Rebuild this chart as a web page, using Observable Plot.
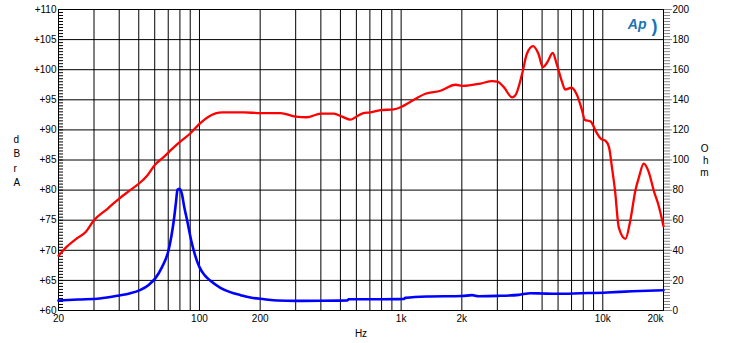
<!DOCTYPE html>
<html>
<head>
<meta charset="utf-8">
<script src="https://cdn.jsdelivr.net/npm/d3@7"></script>
<script src="https://cdn.jsdelivr.net/npm/@observablehq/plot@0.6"></script>
<style>
  html, body { margin: 0; padding: 0; background: #fff; }
  #chart svg { display: block; }
</style>
</head>
<body>
<div id="chart"></div>
<script>
// Red curve: level (dBrA), left axis
const redFreq = [20, 22, 24.7, 27.2, 30, 35, 40, 45, 51, 55, 60.5, 66, 73, 80, 90, 100, 111, 130, 166, 200, 252, 300, 340, 400, 463, 510, 561, 600, 650, 700, 790, 920, 1000, 1103, 1320, 1567, 1860, 2030, 2470, 2830, 3000, 3230, 3550, 3680, 3980, 4200, 4510, 4800, 5050, 5300, 5650, 5900, 6290, 6500, 7000, 7400, 7900, 8130, 8700, 9300, 9800, 10300, 10740, 11100, 11500, 12000, 12950, 13700, 14500, 15100, 15950, 16900, 17900, 19000, 20000];
const redDb = [69.1, 70.6, 72.0, 73.0, 75.0, 76.9, 78.6, 79.9, 81.3, 82.4, 84.3, 85.4, 86.8, 88.0, 89.4, 91.0, 92.2, 92.9, 92.9, 92.8, 92.8, 92.2, 92.1, 92.7, 92.7, 92.2, 91.7, 92.2, 92.8, 92.9, 93.3, 93.4, 93.8, 94.6, 96.0, 96.5, 97.5, 97.3, 97.7, 98.1, 98.0, 97.1, 95.4, 95.7, 99.3, 102.6, 103.9, 102.6, 100.4, 101.2, 102.8, 101.0, 97.9, 96.7, 97.0, 96.0, 93.2, 91.7, 91.4, 89.6, 88.5, 88.2, 87.1, 83.8, 79.9, 73.8, 71.9, 75.0, 79.9, 82.1, 84.4, 83.0, 79.9, 77.2, 74.0];

// Blue curve: impedance (Ohm), right axis
const blueFreq = [20, 25, 32, 40, 45, 51, 56, 60.5, 65.2, 70.2, 74.6, 76.5, 77.8, 79.9, 81.8, 84, 86.9, 91, 95, 100, 106, 113, 127, 142, 160, 179, 210, 243, 300, 400, 540, 550, 800, 1027, 1050, 1346, 2000, 2250, 2420, 3000, 3830, 4380, 5000, 5940, 7800, 10500, 14000, 20000];
const blueOhm = [6.6, 7.3, 8.0, 10.0, 11.3, 13.7, 17.0, 21.5, 28.8, 39.9, 59.8, 72, 80.2, 80.9, 77.5, 69, 59.8, 46.5, 37, 28.8, 23.5, 19.9, 15.1, 12.2, 10.2, 8.6, 7.5, 6.6, 6.4, 6.5, 6.6, 7.5, 7.5, 7.6, 8.4, 9.3, 9.6, 10.2, 9.5, 9.7, 10.4, 11.5, 11.3, 11.1, 11.5, 12.0, 12.8, 13.5];

// Axis ticks and labels
const dbTicks = [60, 65, 70, 75, 80, 85, 90, 95, 100, 105, 110];
const ohmTicks = [0, 20, 40, 60, 80, 100, 120, 140, 160, 180, 200];
const xGrid = [20, 30, 40, 50, 60, 70, 80, 90, 100, 200, 300, 400, 500, 600, 700, 800, 900, 1000, 2000, 3000, 4000, 5000, 6000, 7000, 8000, 9000, 10000, 20000];
const xLabelValues = [20, 50, 100, 200, 500, 1000, 2000, 5000, 10000];
const xLabelTexts = ["20", "50", "100", "200", "500", "1k", "2k", "5k", "10k"];
const xLastValue = 20000;
const xLastText = "20k";

// Ohm (0..200) mapped onto dB (60..110)
const ohmToDb = o => 60 + o / 4;

const red = redFreq.map((f, i) => ({f, v: redDb[i]}));
const blue = blueFreq.map((f, i) => ({f, v: ohmToDb(blueOhm[i])}));
const minorLeft = d3.range(60, 110.01, 0.5);
const minorRight = d3.range(0, 200.01, 2).map(ohmToDb);
const majorRight = ohmTicks.map(ohmToDb);

const font = "'Liberation Sans', Arial, Helvetica, sans-serif";

const chart = Plot.plot({
  width: 730,
  height: 343,
  marginLeft: 58,
  marginRight: 67,
  marginTop: 9,
  marginBottom: 33,
  style: {fontFamily: font, fontSize: "10px", background: "#fff", color: "#000"},
  x: {type: "log", domain: [20, 20000], axis: null},
  y: {domain: [60, 110], axis: null},
  marks: [
    Plot.ruleX(xGrid, {stroke: "#000", strokeWidth: 1}),
    Plot.ruleY(dbTicks, {stroke: "#000", strokeWidth: 1}),
    // left minor ticks (inside)
    Plot.tickY(minorLeft, {y: d => d, stroke: "#000", insetRight: 600}),
    // right minor ticks (outside, grey)
    Plot.axisY(minorRight, {anchor: "right", tickSize: 6, stroke: "#888", tickFormat: () => "", label: null}),
    Plot.axisY(majorRight, {anchor: "right", tickSize: 8, stroke: "#888", tickFormat: () => "", label: null}),
    // right labels
    Plot.axisY(majorRight, {anchor: "right", tickSize: 0, tickPadding: 9, fill: "#000", tickFormat: d => String(Math.round((d - 60) * 4)), label: null}),
    // left labels
    Plot.axisY(dbTicks, {anchor: "left", tickSize: 0, tickPadding: 2, fill: "#000", tickFormat: d => "+" + d, label: null}),
    // x labels
    Plot.axisX(xLabelValues, {anchor: "bottom", tickSize: 0, tickPadding: 4, fill: "#000", tickFormat: d => xLabelTexts[xLabelValues.indexOf(d)], label: null}),
    Plot.axisX([xLastValue], {anchor: "bottom", tickSize: 0, tickPadding: 4, fill: "#000", textAnchor: "end", tickFormat: () => xLastText, label: null}),
    Plot.text(["Hz"], {frameAnchor: "bottom", dy: 19, lineAnchor: "top", fill: "#000", fontSize: 10}),
    Plot.text(["d\nB\nr\nA"], {frameAnchor: "left", dx: -45, lineHeight: 1.45, fill: "#000", fontSize: 10}),
    Plot.text(["O\nh\nm"], {frameAnchor: "right", dx: 45, lineHeight: 1.2, fill: "#000", fontSize: 10}),
    // logo
    Plot.text(["Ap"], {frameAnchor: "top-right", dx: -17, dy: 10, fill: "#1874b4", fontSize: 14, fontWeight: "bold", fontStyle: "italic"}),
    Plot.text([")"], {frameAnchor: "top-right", dx: -6, dy: 10, fill: "#1874b4", fontSize: 18, fontWeight: "bold"}),
    Plot.frame({stroke: "#000", strokeWidth: 1}),
    Plot.line(blue, {x: "f", y: "v", stroke: "#0000ff", strokeWidth: 2.6, curve: "monotone-x"}),
    Plot.line(red, {x: "f", y: "v", stroke: "#ff0000", strokeWidth: 2.3, curve: "monotone-x"})
  ]
});
document.getElementById("chart").appendChild(chart);
</script>
</body>
</html>
